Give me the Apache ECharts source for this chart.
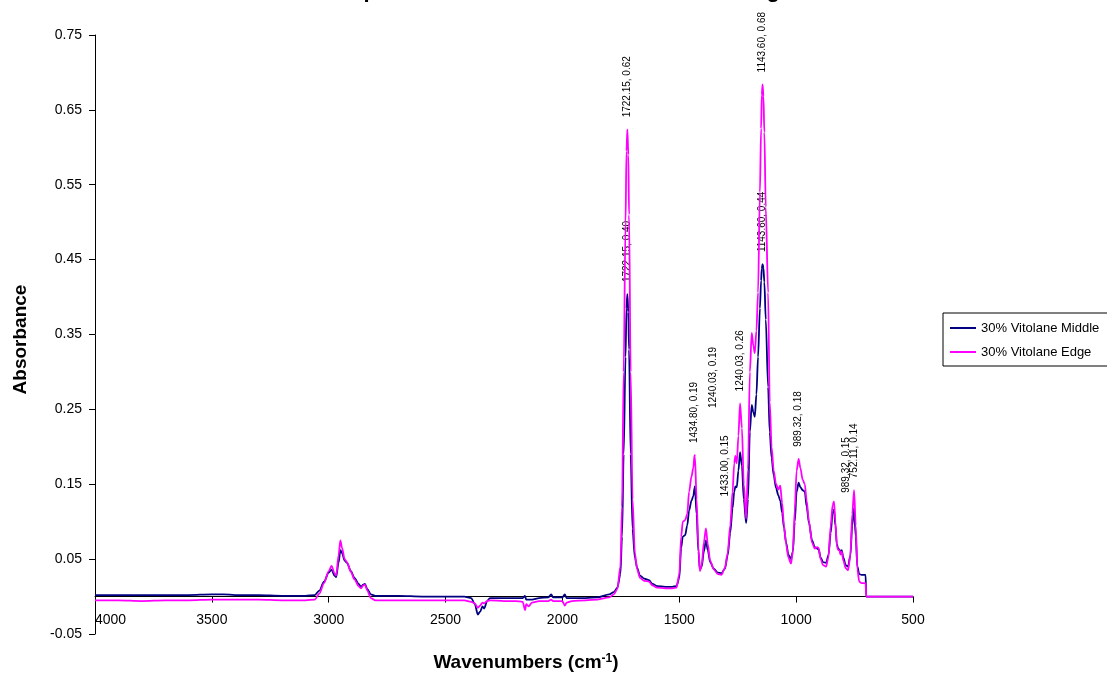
<!DOCTYPE html>
<html>
<head>
<meta charset="utf-8">
<title>30% Vitolane Middle / Edge</title>
<script src="https://cdn.jsdelivr.net/npm/echarts@6/dist/echarts.min.js"></script>
<style>
  html, body { margin: 0; padding: 0; background: #fff; }
  #chart { width: 1107px; height: 673px; }
</style>
</head>
<body>
<div id="chart"></div>
<script>
// Wavenumber grid (cm-1), descending
const wavenumbers = [
  4000, 3900, 3800, 3700, 3600, 3500, 3450, 3400, 3300, 3200, 3100, 3060, 3040, 3020, 3000,
  2988, 2975, 2968, 2958, 2950, 2943, 2932, 2922, 2905, 2890, 2872, 2862, 2852, 2845, 2835,
  2820, 2800, 2700, 2600, 2500, 2420, 2390, 2375, 2362, 2352, 2342, 2335, 2322, 2310, 2250,
  2200, 2170, 2160, 2155, 2145, 2130, 2100, 2060, 2048, 2040, 2000, 1990, 1982, 1960, 1900,
  1850, 1800, 1780, 1765, 1752, 1745, 1738, 1730, 1726, 1722.15, 1718, 1715, 1708, 1700, 1690,
  1680, 1668, 1650, 1630, 1615, 1595, 1560, 1530, 1512, 1500, 1492, 1485, 1475, 1466, 1458,
  1448, 1440, 1434.80, 1433.00, 1426, 1418, 1412, 1404, 1395, 1386, 1378, 1368, 1352, 1335, 1320,
  1305, 1293, 1282, 1272, 1265, 1260, 1254, 1247, 1240.03, 1232, 1224, 1214, 1206, 1198, 1190,
  1183, 1177, 1170, 1163, 1155, 1150, 1147, 1143.60, 1140, 1136, 1130, 1120, 1113, 1105, 1096,
  1086, 1076, 1068, 1060, 1052, 1043, 1033, 1022, 1014, 1006, 998, 989.32, 982, 972, 963,
  955, 945, 932, 920, 910, 904, 895, 885, 872, 862, 852, 844, 838, 832, 826,
  820, 815, 810, 805, 798, 788, 778, 768, 760, 752.11, 745, 738, 730, 720, 703,
  700, 600, 500
];

// Absorbance, 30% Vitolane Middle
const middleAbs = [
  0.002, 0.002, 0.002, 0.002, 0.002, 0.003, 0.003, 0.002, 0.002, 0.001, 0.001, 0.002, 0.008, 0.020, 0.032,
  0.036, 0.028, 0.026, 0.045, 0.062, 0.058, 0.048, 0.045, 0.034, 0.025, 0.017, 0.013, 0.016, 0.017, 0.010,
  0.003, 0.001, 0.001, 0.000, 0.000, 0.000, -0.002, -0.010, -0.024, -0.020, -0.013, -0.016, -0.006, -0.002, -0.002,
  -0.002, -0.002, 0.001, -0.004, -0.004, -0.004, -0.002, -0.001, 0.003, -0.001, -0.001, 0.003, -0.002, -0.002, -0.002,
  -0.001, 0.003, 0.006, 0.012, 0.030, 0.080, 0.190, 0.320, 0.385, 0.404, 0.380, 0.330, 0.190, 0.090, 0.052,
  0.038, 0.028, 0.024, 0.022, 0.017, 0.014, 0.013, 0.013, 0.014, 0.025, 0.065, 0.080, 0.082, 0.095, 0.115,
  0.128, 0.134, 0.145, 0.147, 0.110, 0.060, 0.036, 0.040, 0.060, 0.075, 0.062, 0.046, 0.037, 0.032, 0.031,
  0.037, 0.055, 0.085, 0.118, 0.140, 0.147, 0.146, 0.168, 0.193, 0.175, 0.130, 0.098, 0.130, 0.220, 0.256,
  0.246, 0.240, 0.270, 0.320, 0.385, 0.422, 0.438, 0.444, 0.439, 0.420, 0.370, 0.280, 0.220, 0.185, 0.162,
  0.145, 0.135, 0.128, 0.112, 0.092, 0.072, 0.056, 0.050, 0.060, 0.100, 0.140, 0.152, 0.146, 0.142, 0.140,
  0.120, 0.098, 0.075, 0.066, 0.064, 0.063, 0.052, 0.046, 0.045, 0.055, 0.085, 0.112, 0.116, 0.095, 0.070,
  0.064, 0.063, 0.058, 0.062, 0.052, 0.042, 0.040, 0.055, 0.095, 0.118, 0.080, 0.040, 0.030, 0.029, 0.029,
  0.000, 0.000, 0.000
];

// Absorbance, 30% Vitolane Edge
const edgeAbs = [
  -0.005, -0.005, -0.006, -0.005, -0.005, -0.004, -0.004, -0.004, -0.004, -0.005, -0.005, -0.004, 0.004, 0.018, 0.034,
  0.041, 0.031, 0.028, 0.055, 0.075, 0.065, 0.050, 0.046, 0.033, 0.023, 0.014, 0.011, 0.015, 0.016, 0.008,
  -0.002, -0.005, -0.005, -0.005, -0.005, -0.005, -0.007, -0.009, -0.015, -0.012, -0.008, -0.009, -0.006, -0.005, -0.006,
  -0.006, -0.007, -0.018, -0.010, -0.013, -0.008, -0.006, -0.006, -0.004, -0.006, -0.006, -0.012, -0.008, -0.006, -0.005,
  -0.004, -0.001, 0.003, 0.010, 0.040, 0.120, 0.300, 0.500, 0.595, 0.624, 0.590, 0.510, 0.300, 0.130, 0.058,
  0.036, 0.025, 0.021, 0.020, 0.015, 0.012, 0.011, 0.011, 0.012, 0.030, 0.080, 0.100, 0.102, 0.110, 0.140,
  0.160, 0.172, 0.189, 0.187, 0.130, 0.065, 0.034, 0.042, 0.072, 0.091, 0.070, 0.048, 0.036, 0.030, 0.029,
  0.038, 0.058, 0.095, 0.140, 0.178, 0.188, 0.178, 0.215, 0.258, 0.225, 0.150, 0.104, 0.170, 0.300, 0.352,
  0.335, 0.325, 0.355, 0.406, 0.540, 0.625, 0.670, 0.684, 0.668, 0.620, 0.520, 0.406, 0.260, 0.200, 0.168,
  0.150, 0.143, 0.148, 0.125, 0.095, 0.070, 0.052, 0.044, 0.060, 0.115, 0.168, 0.184, 0.172, 0.156, 0.150,
  0.128, 0.100, 0.072, 0.064, 0.066, 0.065, 0.050, 0.042, 0.040, 0.052, 0.095, 0.122, 0.127, 0.100, 0.068,
  0.062, 0.062, 0.056, 0.060, 0.048, 0.038, 0.035, 0.055, 0.110, 0.142, 0.095, 0.036, 0.020, 0.018, 0.018,
  0.000, 0.000, 0.000
];

// Peaks annotated with "wavenumber, absorbance"
const middlePeaks = [1722.15, 1433.00, 1240.03, 1143.60, 989.32];
const edgePeaks = [1722.15, 1434.80, 1240.03, 1143.60, 989.32, 752.11];

// Hand-placed annotation shifts in screen pixels [dx, dy]
const middleShift = { '1433': [30, 22], '1240.03': [-27, -32], '989.32': [48, 22] };
const edgeShift = {};

const FONT = '"Liberation Sans", Arial, sans-serif';

// Plot box and value range of the absorbance axis
const GRID = { left: 95, right: 194, top: 35, bottom: 39 };
const Y_MIN = -0.05, Y_MAX = 0.75;
const CHART_H = 673;
// The wavenumber axis crosses the absorbance axis at 0
const plotH = CHART_H - GRID.top - GRID.bottom;
const xAxisOffset = -plotH * (0 - Y_MIN) / (Y_MAX - Y_MIN);

function buildData(values, peaks, shifts) {
  return wavenumbers.map((w, i) => {
    const item = { value: [w, values[i]] };
    if (peaks.indexOf(w) !== -1) {
      const s = shifts[String(w)] || [0, 0];
      // label is rotated 90 degrees, so its offset lives in the rotated frame
      item.label = { show: true, offset: [-s[1], s[0]] };
    }
    return item;
  });
}

const peakLabel = {
  show: false,
  position: 'top',
  distance: 12,
  rotate: 90,
  align: 'left',
  verticalAlign: 'middle',
  fontSize: 10,
  fontFamily: FONT,
  color: '#000',
  formatter: p => p.value[0].toFixed(2) + ', ' + p.value[1].toFixed(2)
};

const chart = echarts.init(document.getElementById('chart'), null, { renderer: 'canvas' });

chart.setOption({
  animation: false,
  backgroundColor: '#fff',
  title: {
    text: 'Comparison of 30% Vitolane Middle and Edge',
    left: 'center',
    top: -25,
    textStyle: { fontFamily: FONT, fontSize: 22, fontWeight: 'bold', color: '#000' }
  },
  legend: {
    orient: 'vertical',
    left: 943,
    top: 313,
    padding: [8, 30, 7, 7],
    itemGap: 10,
    itemWidth: 26,
    itemHeight: 2,
    icon: 'rect',
    borderColor: '#000',
    borderWidth: 1,
    textStyle: { fontFamily: FONT, fontSize: 13, color: '#000', lineHeight: 14 },
    data: ['30% Vitolane Middle', '30% Vitolane Edge']
  },
  grid: Object.assign({ containLabel: false, outerBoundsMode: 'none' }, GRID),
  xAxis: {
    type: 'value',
    inverse: true,
    min: 500,
    max: 4000,
    interval: 500,
    offset: xAxisOffset,
    name: '{t|Wavenumbers (cm}{s|-1}{t|)}',
    nameLocation: 'middle',
    nameGap: 56,
    nameTextStyle: {
      padding: [0, 0, 0, 44],
      rich: {
        t: { fontFamily: FONT, fontSize: 19, fontWeight: 'bold', color: '#000' },
        s: { fontFamily: FONT, fontSize: 12, fontWeight: 'bold', color: '#000', verticalAlign: 'top', padding: [0, 0, 8, 0] }
      }
    },
    axisLine: { onZero: false, lineStyle: { color: '#000', width: 1 } },
    axisTick: { show: true, inside: false, length: 6, lineStyle: { color: '#000' } },
    axisLabel: {
      fontFamily: FONT, fontSize: 14, color: '#000', margin: 17,
      alignMaxLabel: 'left',
      formatter: v => String(v)
    },
    splitLine: { show: false }
  },
  yAxis: {
    type: 'value',
    min: Y_MIN,
    max: Y_MAX,
    interval: 0.1,
    name: 'Absorbance',
    nameLocation: 'middle',
    nameGap: 65,
    nameTextStyle: { fontFamily: FONT, fontSize: 19, fontWeight: 'bold', color: '#000', padding: [0, 10, 0, 0] },
    axisLine: { show: true, onZero: false, lineStyle: { color: '#000', width: 1 } },
    axisTick: { show: true, inside: false, length: 6, lineStyle: { color: '#000' } },
    axisLabel: {
      fontFamily: FONT, fontSize: 14, color: '#000', margin: 13,
      formatter: v => v.toFixed(2)
    },
    splitLine: { show: false }
  },
  series: [
    {
      name: '30% Vitolane Middle',
      type: 'line',
      data: buildData(middleAbs, middlePeaks, middleShift),
      symbol: 'circle',
      symbolSize: 0,
      showSymbol: true,
      smooth: 0.3,
      smoothMonotone: 'x',
      lineStyle: { color: '#000080', width: 1.8 },
      itemStyle: { color: '#000080' },
      label: peakLabel,
      emphasis: { disabled: true },
      z: 2
    },
    {
      name: '30% Vitolane Edge',
      type: 'line',
      data: buildData(edgeAbs, edgePeaks, edgeShift),
      symbol: 'circle',
      symbolSize: 0,
      showSymbol: true,
      smooth: 0.3,
      smoothMonotone: 'x',
      lineStyle: { color: '#ff00ff', width: 1.8 },
      itemStyle: { color: '#ff00ff' },
      label: peakLabel,
      emphasis: { disabled: true },
      z: 3
    }
  ]
});
</script>
</body>
</html>
